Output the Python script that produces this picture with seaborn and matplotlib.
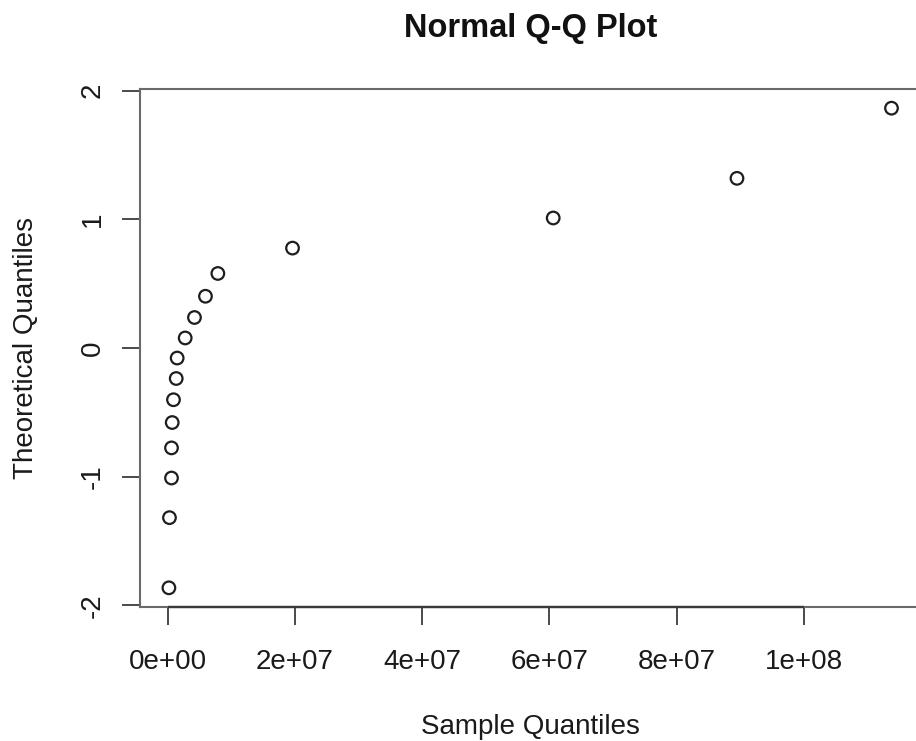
import matplotlib
matplotlib.use("Agg")
import matplotlib.pyplot as plt
import seaborn as sns
import pandas as pd

# Sample quantiles (sorted observations) and matching normal theoretical quantiles
sample_q = [0.16e6, 0.25e6, 0.57e6, 0.57e6, 0.68e6, 0.88e6, 1.31e6, 1.46e6,
            2.72e6, 4.18e6, 5.91e6, 7.86e6, 19.6e6, 60.6e6, 89.5e6, 113.8e6]
theor_q = [-1.863, -1.318, -1.010, -0.776, -0.579, -0.402, -0.237, -0.078,
           0.078, 0.237, 0.402, 0.579, 0.776, 1.010, 1.318, 1.863]

x_ticks = [0, 2e7, 4e7, 6e7, 8e7, 1e8]
x_tick_labels = ["0e+00", "2e+07", "4e+07", "6e+07", "8e+07", "1e+08"]
y_ticks = [-2, -1, 0, 1, 2]
y_tick_labels = ["-2", "-1", "0", "1", "2"]

df = pd.DataFrame({"sample": sample_q, "theoretical": theor_q})

sns.set_style("white")
plt.rcParams["font.family"] = ["Liberation Sans", "DejaVu Sans"]

W, H = 916, 741
fig = plt.figure(figsize=(W / 100, H / 100), dpi=100)
left, right, top, bottom = 140, 920.4, 89, 607
ax = fig.add_axes([left / W, 1 - bottom / H, (right - left) / W, (bottom - top) / H])

sns.scatterplot(data=df, x="sample", y="theoretical", ax=ax, marker="o",
                facecolor="none", edgecolor="#1e1e1e", linewidth=1.6, s=82,
                legend=False, zorder=3)

# R-style 4% padding of the data range
xr = max(sample_q) - min(sample_q)
yr = max(theor_q) - min(theor_q)
ax.set_xlim(min(sample_q) - 0.04 * xr, max(sample_q) + 0.04 * xr)
ax.set_ylim(min(theor_q) - 0.04 * yr, max(theor_q) + 0.04 * yr)

ax.set_xticks(x_ticks)
ax.set_xticklabels(x_tick_labels)
ax.set_yticks(y_ticks)
ax.set_yticklabels(y_tick_labels)

for sp in ax.spines.values():
    sp.set_visible(True)
    sp.set_color("#6a6a6a")
    sp.set_linewidth(1.5)

# axis line spanning the first to last x tick
ax.hlines(ax.get_ylim()[0], x_ticks[0], x_ticks[-1], color="#3a3a3a",
          linewidth=1.7, clip_on=False, zorder=4)

ax.tick_params(axis="both", which="major", direction="out", length=13,
               width=1.4, color="#4a4a4a", labelsize=20, labelcolor="#1a1a1a",
               bottom=True, left=True, top=False, right=False)
ax.tick_params(axis="x", pad=17)
ax.tick_params(axis="y", pad=11.5, labelrotation=90)
for lab in ax.get_yticklabels():
    lab.set_va("center")

ax.set_xlabel("")
ax.set_ylabel("")

cx = (left + right) / 2
fig.text(cx / W, 1 - 37 / H, "Normal Q-Q Plot", ha="center", va="baseline",
         fontsize=23.5, fontweight="bold", color="#111111")
fig.text(cx / W, 1 - 734 / H, "Sample Quantiles", ha="center", va="baseline",
         fontsize=20, color="#1a1a1a")
fig.text(33 / W, 1 - ((top + bottom) / 2) / H, "Theoretical Quantiles",
         ha="center", va="baseline", rotation=90, rotation_mode="anchor",
         fontsize=20, color="#1a1a1a")

fig.savefig("out.png", dpi=100)
